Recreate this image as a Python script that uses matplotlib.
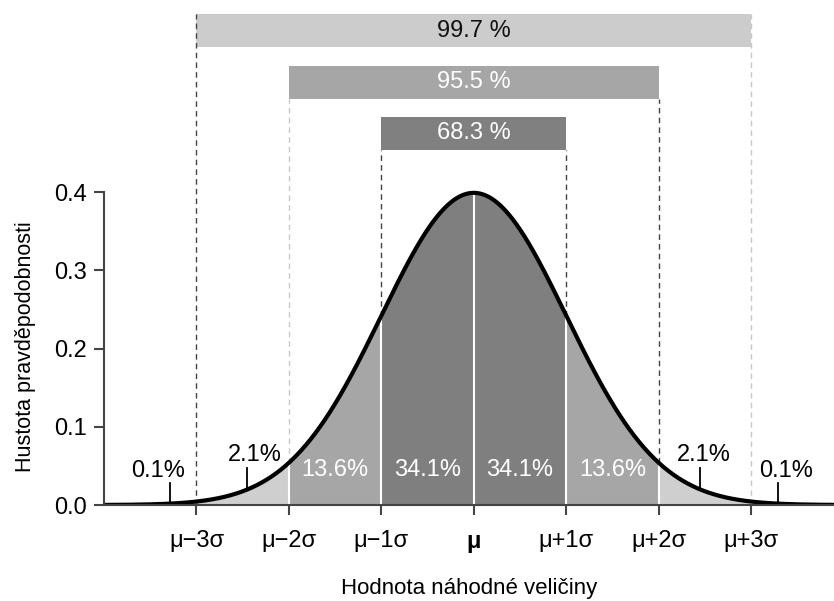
import numpy as np
import matplotlib.pyplot as plt

plt.rcParams['font.family'] = ['Liberation Sans', 'DejaVu Sans']

# Data
mu, sigma = 0.0, 1.0
tick_pos = [-3, -2, -1, 0, 1, 2, 3]
tick_labels = ['μ−3σ', 'μ−2σ', 'μ−1σ', 'μ', 'μ+1σ', 'μ+2σ', 'μ+3σ']
yticks = [0.0, 0.1, 0.2, 0.3, 0.4]

band_edges = [(-3, -2), (-2, -1), (-1, 0), (0, 1), (1, 2), (2, 3)]
band_colors = ['#cfcfcf', '#a6a6a6', '#7f7f7f', '#7f7f7f', '#a6a6a6', '#cfcfcf']
inner_labels = ['13.6%', '34.1%', '34.1%', '13.6%']
inner_pos = [-1.5, -0.5, 0.5, 1.5]

tail_labels = ['0.1%', '2.1%', '2.1%', '0.1%']
tail_pos = [-3.29, -2.45, 2.45, 3.29]
tail_text_shift = [-0.12, 0.08, 0.04, 0.09]

bar_labels = ['99.7 %', '95.5 %', '68.3 %']
bar_half = [3, 2, 1]
bar_y = [0.585, 0.519, 0.454]
bar_colors = ['#cccccc', '#a6a6a6', '#808080']
bar_text_colors = ['#111111', 'white', 'white']

FS = 17


def pdf(x):
    return np.exp(-0.5 * ((x - mu) / sigma) ** 2) / (sigma * np.sqrt(2 * np.pi))


fig = plt.figure(figsize=(8.34, 6.01), dpi=100)
ax = fig.add_axes([0.1247, 0.1597, 0.8753, 0.8403])
ax.set_xlim(-4.0, 3.896)
ax.set_ylim(0, 0.6454)

# shaded bands under the curve
for (a, b), c in zip(band_edges, band_colors):
    xs = np.linspace(a, b, 200)
    ax.fill_between(xs, 0, pdf(xs), color=c, lw=0)
for p in [-2, -1, 0, 1, 2]:
    ax.plot([p, p], [0, pdf(p)], color='white', lw=1.5)

# dashed guide lines from bars down to curve
dash_dark, dash_light = '#444444', '#c8c8c8'
guides = [(-3, 0.627, 0, dash_dark), (3, 0.627, 0, dash_light),
          (-2, 0.519, pdf(-2), dash_light), (2, 0.519, pdf(2), dash_dark),
          (-1, 0.454, pdf(-1), dash_dark), (1, 0.454, pdf(1), dash_dark)]
for x, ytop, ybot, c in guides:
    ax.plot([x, x], [ybot, ytop], color=c, lw=1, ls=(0, (4, 3)))

# bars at the top
for lab, h, y, c, tc in zip(bar_labels, bar_half, bar_y, bar_colors, bar_text_colors):
    ax.add_patch(plt.Rectangle((-h, y), 2 * h, 0.042, color=c, lw=0))
    ax.text(0, y + 0.021, lab, ha='center', va='center', color=tc, fontsize=FS)

# the curve
xs = np.linspace(-4.0, 3.9, 600)
ax.plot(xs, pdf(xs), color='black', lw=3, solid_capstyle='round')

for lab, x in zip(inner_labels, inner_pos):
    ax.text(x, 0.045, lab, ha='center', va='center', color='white', fontsize=FS)

for lab, x, dx in zip(tail_labels, tail_pos, tail_text_shift):
    y0 = pdf(x) if abs(x) < 3 else 0.0
    ax.plot([x, x], [y0, y0 + 0.028], color='black', lw=1.3)
    ax.text(x + dx, y0 + 0.030, lab, ha='center', va='bottom', fontsize=FS)

# axes styling
for s in ['top', 'right']:
    ax.spines[s].set_visible(False)
ax.spines['left'].set_bounds(0, 0.4)
ax.spines['left'].set_color('#444444')
ax.spines['bottom'].set_color('#444444')
ax.spines['left'].set_linewidth(1.5)
ax.spines['bottom'].set_linewidth(1.5)
ax.set_yticks(yticks)
ax.set_yticklabels([f'{v:.1f}' for v in yticks], fontsize=FS)
ax.set_xticks(tick_pos)
ax.set_xticklabels(tick_labels, fontsize=FS)
ax.get_xticklabels()[3].set_fontweight('bold')
ax.tick_params(axis='both', length=7, width=1.5, color='#444444')
ax.tick_params(axis='x', pad=11)
ax.tick_params(axis='y', pad=5)
ax.set_xlabel('Hodnota náhodné veličiny', fontsize=16, labelpad=18)
ax.set_ylabel('Hustota pravděpodobnosti', fontsize=15.5)
ax.yaxis.set_label_coords(-0.093, 0.313)

fig.savefig('out.png', dpi=100)
